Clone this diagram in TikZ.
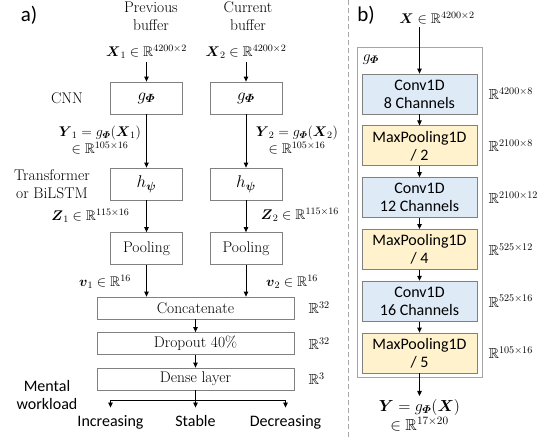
\RequirePackage{fix-cm}
\documentclass[tikz,border=0pt]{standalone}
\usepackage{amsmath,amssymb}
\usepackage{fontspec}
\newfontfamily\carlito{Carlito}
\usetikzlibrary{positioning,arrows.meta}
\definecolor{convblue}{RGB}{222,235,247}
\definecolor{poolyellow}{RGB}{255,242,204}
\definecolor{boxgray}{RGB}{128,128,128}
\begin{document}
\begin{tikzpicture}[node distance=2.5cm,auto]
	\tikzstyle{rect1} = [rectangle,line width=0.8pt,minimum width =72pt,minimum height =32pt,
	inner sep=2pt,text centered,draw = boxgray,font=\fontsize{15.5}{18}\selectfont]
	\tikzstyle{rect4} = [rectangle,line width=0.8pt,minimum width =197pt,minimum height =22pt,
	inner sep=1pt,text centered,draw = boxgray,font=\fontsize{15.5}{18}\selectfont]
	\tikzstyle{rect2} = [rectangle,line width=0.8pt,minimum width =115pt,minimum height =40pt,fill=convblue,
	inner sep=1pt,align=center,draw = boxgray,font=\carlito\fontsize{16}{18}\selectfont]
	\tikzstyle{rect3} = [rect2,fill=poolyellow]
	\tikzstyle{rect5} = [rectangle,line width=0.8pt,minimum width =125pt,minimum height =330pt,draw = gray!70]
	\tikzstyle{txt} = [align=center,inner sep=3pt,font=\fontsize{15.5}{18}\selectfont]
	\tikzstyle{mth} = [align=center,inner sep=3pt,font=\fontsize{14}{17.5}\selectfont]
	\tikzstyle{sans} = [align=center,inner sep=3pt,font=\carlito\fontsize{16}{18}\selectfont]
	\tikzstyle{outlbl} = [sans,text height=11pt,text depth=3.5pt,inner xsep=0pt,inner ysep=8pt]
	\tikzstyle{dim} = [inner sep=0pt,font=\fontsize{14.5}{17}\selectfont]
	\tikzstyle{arr} = [-{Triangle[length=5pt,width=4.5pt]},line width=0.8pt]

	\useasboundingbox (0,0) rectangle (559pt,-439pt);

	\node (node1) [rect1,font=\fontsize{17}{18}\selectfont] at (146.5pt,-98pt) {$g_{\boldsymbol{\varPhi}}$};
	\node (node2) [rect1, right of=node1,node distance=99.5pt,font=\fontsize{17}{18}\selectfont] {$g_{\boldsymbol{\varPhi}}$};
	\node (node3) [rect1, below of=node1,node distance=86pt,font=\fontsize{17}{18}\selectfont] {$h_{\boldsymbol{\psi}}$};
	\node (node4) [rect1, below of=node2,node distance=86pt,font=\fontsize{17}{18}\selectfont] {$h_{\boldsymbol{\psi}}$};
	\node (node5) [rect1, below of=node3,node distance=64.5pt] {Pooling};
	\node (node6) [rect1, below of=node4,node distance=64.5pt] {Pooling};
	\node (node7) [rect4, below of=node5,node distance=59.5pt,xshift=49pt] {Concatenate};
	\node (node8) [rect4, below of=node7,node distance=35.5pt] {Dropout 40\%};
	\node (node9) [rect4, below of=node8,node distance=35.5pt] {Dense layer};

	\node (node10) [txt, above of=node1,node distance=82pt,xshift=4.5pt] {Previous\\buffer};
	\node (node11) [txt, above of=node2,node distance=82pt,xshift=2pt] {Current\\buffer};
	\node (node12) [mth, above of=node1,node distance=46pt] {$\boldsymbol{X}_1 \in \mathbb{R}^{4200\times2}$};
	\node (node13) [mth, above of=node2,node distance=46pt] {$\boldsymbol{X}_2 \in \mathbb{R}^{4200\times2}$};
	\node (node14) [txt, left of=node1,node distance=79.5pt] {CNN};
	\node (node15) [txt, left of=node3,node distance=94.5pt] {Transformer\\or BiLSTM};
	\node (node16) [mth, below of=node1,node distance=42pt,xshift=-46.5pt]
		{$\boldsymbol{Y}_1 = g_{\boldsymbol{\varPhi}}(\boldsymbol{X}_1)$\\$\in \mathbb{R}^{105\times16}$};
	\node (node17) [mth, below of=node2,node distance=42pt,xshift=51pt]
		{$\boldsymbol{Y}_2 = g_{\boldsymbol{\varPhi}}(\boldsymbol{X}_2)$\\$\in \mathbb{R}^{105\times16}$};
	\node (node18) [mth, below of=node3,node distance=32pt,xshift=-56pt] {$\boldsymbol{Z}_1 \in \mathbb{R}^{115\times16}$};
	\node (node19) [mth, below of=node4,node distance=31pt,xshift=54pt] {$\boldsymbol{Z}_2 \in \mathbb{R}^{115\times16}$};
	\node (node20) [mth, below of=node5,node distance=33.5pt,xshift=-41.5pt] {$\boldsymbol{v}_1 \in \mathbb{R}^{16}$};
	\node (node21) [mth, below of=node6,node distance=33.5pt,xshift=46pt] {$\boldsymbol{v}_2 \in \mathbb{R}^{16}$};
	\node (node22) [dim, right=14pt of node7] {$\mathbb{R}^{32}$};
	\node (node23) [dim, right=14pt of node8] {$\mathbb{R}^{32}$};
	\node (node24) [dim, right=14pt of node9] {$\mathbb{R}^{3}$};
	\node (node25) [sans, below of=node9,node distance=16pt,xshift=-148.5pt] {Mental\\workload};
	\node (node27) [outlbl, below of=node9,node distance=44pt] {Stable};
	\node (node26) [outlbl, left of=node27,node distance=85pt] {Increasing};
	\node (node28) [outlbl, right of=node27,node distance=90pt] {Decreasing};
	\node (node29) [font=\carlito\fontsize{21}{21}\selectfont] at (29pt,-15pt) {a)};

	\draw[arr] (node12) -- (node1);
	\draw[arr] (node13) -- (node2);
	\draw[arr] (node1) -- (node3);
	\draw[arr] (node2) -- (node4);
	\draw[arr] (node3) -- (node5);
	\draw[arr] (node4) -- (node6);
	\draw[arr] (node5.south) -- (node5.south |- node7.north);
	\draw[arr] (node6.south) -- (node6.south |- node7.north);
	\draw[arr] (node7) -- (node8);
	\draw[arr] (node8) -- (node9);
	\draw[arr] (node9) -- (node27);
	\coordinate (split) at ([yshift=-10pt]node9.south);
	\draw[line width=0.8pt] (split -| node26) -- (split -| node28);
	\draw[arr] (split -| node26) -- (node26);
	\draw[arr] (split -| node28) -- (node28);

	\draw[gray!70,line width=0.8pt,dash pattern=on 5pt off 3pt] (348pt,0pt) -- (348pt,-439pt);

	\node (node30) [rect5] at (419.5pt,-212pt) {};
	\node (node31) [rect2] at (419.5pt,-94pt) {Conv1D\\8 Channels};
	\node (node32) [rect3, below of=node31,node distance=51.8pt] {MaxPooling1D\\/ 2};
	\node (node33) [rect2, below of=node32,node distance=51.8pt] {Conv1D\\12 Channels};
	\node (node34) [rect3, below of=node33,node distance=51.8pt] {MaxPooling1D\\/ 4};
	\node (node35) [rect2, below of=node34,node distance=51.8pt] {Conv1D\\16 Channels};
	\node (node36) [rect3, below of=node35,node distance=51.8pt] {MaxPooling1D\\/ 5};
	\node (node37) [dim, right=11pt of node31] {$\mathbb{R}^{4200\times8}$};
	\node (node38) [dim, right=11pt of node32] {$\mathbb{R}^{2100\times8}$};
	\node (node39) [dim, right=11pt of node33] {$\mathbb{R}^{2100\times12}$};
	\node (node40) [dim, right=11pt of node34] {$\mathbb{R}^{525\times12}$};
	\node (node41) [dim, right=11pt of node35] {$\mathbb{R}^{525\times16}$};
	\node (node42) [dim, right=11pt of node36] {$\mathbb{R}^{105\times16}$};
	\node (node43) [mth, above of=node31,node distance=76pt,xshift=17.5pt] {$\boldsymbol{X} \in \mathbb{R}^{4200\times2}$};
	\node (node44) [txt, anchor=north west,inner sep=2pt] at ([xshift=4pt,yshift=-6pt]node30.north west) {$g_{\boldsymbol{\varPhi}}$};
	\node (node45) [txt, below of=node36,node distance=62pt,inner ysep=3pt,font=\fontsize{16}{19}\selectfont]
		{$\boldsymbol{Y} = g_{\boldsymbol{\varPhi}}(\boldsymbol{X})$\\{\fontsize{16}{16}\selectfont$\in \mathbb{R}^{17\times20}$}};
	\node (node46) [font=\carlito\fontsize{21}{21}\selectfont] at (366pt,-15pt) {b)};

	\draw[arr] (node31.north |- node43.south) -- (node31);
	\draw[arr] (node31) -- (node32);
	\draw[arr] (node32) -- (node33);
	\draw[arr] (node33) -- (node34);
	\draw[arr] (node34) -- (node35);
	\draw[arr] (node35) -- (node36);
	\draw[arr] (node36) -- (node45);
	\end{tikzpicture}
\end{document}
